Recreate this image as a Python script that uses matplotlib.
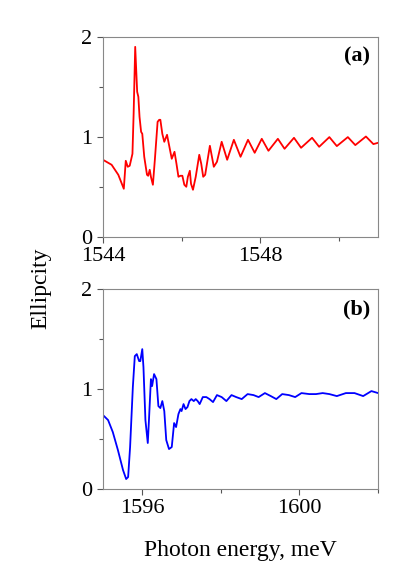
import numpy as np
import matplotlib
matplotlib.use("Agg")
import matplotlib.pyplot as plt
from matplotlib.ticker import MultipleLocator

plt.rcParams['font.family'] = ['Liberation Serif', 'DejaVu Serif']

# panel (a), photon energy (meV) and ellipticity
a_x = [1544.00, 1544.22, 1544.39, 1544.53, 1544.58, 1544.63, 1544.68, 1544.75, 1544.78, 1544.82,
       1544.85, 1544.87, 1544.90, 1544.93, 1544.97, 1545.00, 1545.05, 1545.12, 1545.15, 1545.19,
       1545.22, 1545.27, 1545.32, 1545.39, 1545.43, 1545.46, 1545.51, 1545.56, 1545.63, 1545.68,
       1545.75, 1545.82, 1545.87, 1545.92, 1545.97, 1546.02, 1546.07, 1546.12, 1546.16, 1546.21,
       1546.24, 1546.29, 1546.36, 1546.45, 1546.50, 1546.55, 1546.60, 1546.72, 1546.82, 1546.90,
       1547.02, 1547.16, 1547.33, 1547.50, 1547.69, 1547.86, 1548.04, 1548.21, 1548.45, 1548.62,
       1548.86, 1549.04, 1549.32, 1549.50, 1549.76, 1549.95, 1550.23, 1550.42, 1550.69, 1550.88, 1551.00]
a_y = [0.77, 0.72, 0.62, 0.48, 0.76, 0.70, 0.71, 0.83, 1.23, 1.90, 1.63, 1.45, 1.40, 1.20, 1.05,
       1.03, 0.80, 0.62, 0.61, 0.67, 0.60, 0.52, 0.77, 1.15, 1.17, 1.17, 1.03, 0.95, 1.02, 0.92,
       0.78, 0.85, 0.73, 0.60, 0.61, 0.61, 0.52, 0.50, 0.60, 0.66, 0.53, 0.47, 0.60, 0.82, 0.73,
       0.60, 0.62, 0.91, 0.70, 0.75, 0.95, 0.77, 0.97, 0.80, 0.97, 0.84, 0.98, 0.86, 0.98, 0.88,
       0.99, 0.89, 0.99, 0.90, 0.997, 0.907, 0.997, 0.917, 1.003, 0.927, 0.94]

# panel (b)
b_x = [1595.00, 1595.13, 1595.25, 1595.38, 1595.51, 1595.59, 1595.64, 1595.69, 1595.76, 1595.81,
       1595.86, 1595.92, 1595.95, 1596.00, 1596.03, 1596.08, 1596.14, 1596.17, 1596.22, 1596.25,
       1596.30, 1596.36, 1596.41, 1596.46, 1596.51, 1596.56, 1596.61, 1596.68, 1596.75, 1596.81,
       1596.86, 1596.92, 1596.97, 1597.00, 1597.05, 1597.10, 1597.15, 1597.20, 1597.25, 1597.31,
       1597.36, 1597.41, 1597.46, 1597.54, 1597.63, 1597.71, 1597.80, 1597.90, 1598.02, 1598.14,
       1598.27, 1598.39, 1598.53, 1598.68, 1598.83, 1598.96, 1599.12, 1599.27, 1599.41, 1599.56,
       1599.73, 1599.89, 1600.05, 1600.25, 1600.42, 1600.59, 1600.76, 1600.95, 1601.18, 1601.40,
       1601.62, 1601.83, 1602.00]
b_y = [0.74, 0.69, 0.57, 0.39, 0.19, 0.10, 0.12, 0.42, 1.02, 1.33, 1.35, 1.28, 1.28, 1.40, 1.22,
       0.69, 0.46, 0.69, 1.10, 1.03, 1.15, 1.10, 0.83, 0.81, 0.88, 0.78, 0.49, 0.40, 0.42, 0.66,
       0.62, 0.75, 0.80, 0.78, 0.85, 0.80, 0.82, 0.88, 0.90, 0.88, 0.90, 0.88, 0.85, 0.92, 0.92,
       0.90, 0.87, 0.94, 0.92, 0.88, 0.94, 0.92, 0.90, 0.95, 0.94, 0.92, 0.96, 0.93, 0.90, 0.95,
       0.94, 0.92, 0.96, 0.95, 0.95, 0.96, 0.95, 0.93, 0.96, 0.96, 0.93, 0.98, 0.96]

fig = plt.figure(figsize=(4.07, 5.76), dpi=100)
ax1 = fig.add_axes([0.253, 0.589, 0.676, 0.347])
ax2 = fig.add_axes([0.253, 0.151, 0.676, 0.347])

for ax, x, y, c, lab, xl, major in [
        (ax1, a_x, a_y, 'red', '(a)', (1544, 1551), [1544, 1548]),
        (ax2, b_x, b_y, 'blue', '(b)', (1595, 1602), [1596, 1600])]:
    ax.plot(x, y, color=c, lw=1.3)
    ax.set_xlim(*xl)
    ax.set_ylim(0, 2)
    ax.set_xticks(major)
    ax.xaxis.set_minor_locator(MultipleLocator(2))
    ax.set_yticks([0, 1, 2])
    ax.yaxis.set_minor_locator(MultipleLocator(0.5))
    ax.tick_params(labelsize=16, length=4, width=0.8, colors='#555555', labelcolor='black')
    ax.tick_params(which='minor', length=3, width=0.8, colors='#555555')
    for s in ax.spines.values():
        s.set_color('#888888')
        s.set_linewidth(0.8)
    ax.text(0.97, 0.95, lab, transform=ax.transAxes, ha='right', va='top',
            fontsize=16, fontweight='bold')

fig.text(0.10, 0.50, 'Ellipcity', rotation=90, ha='center', va='center', fontsize=17)
fig.text(0.59, 0.045, 'Photon energy, meV', ha='center', va='center', fontsize=17)

fig.savefig('out.png', dpi=100)
